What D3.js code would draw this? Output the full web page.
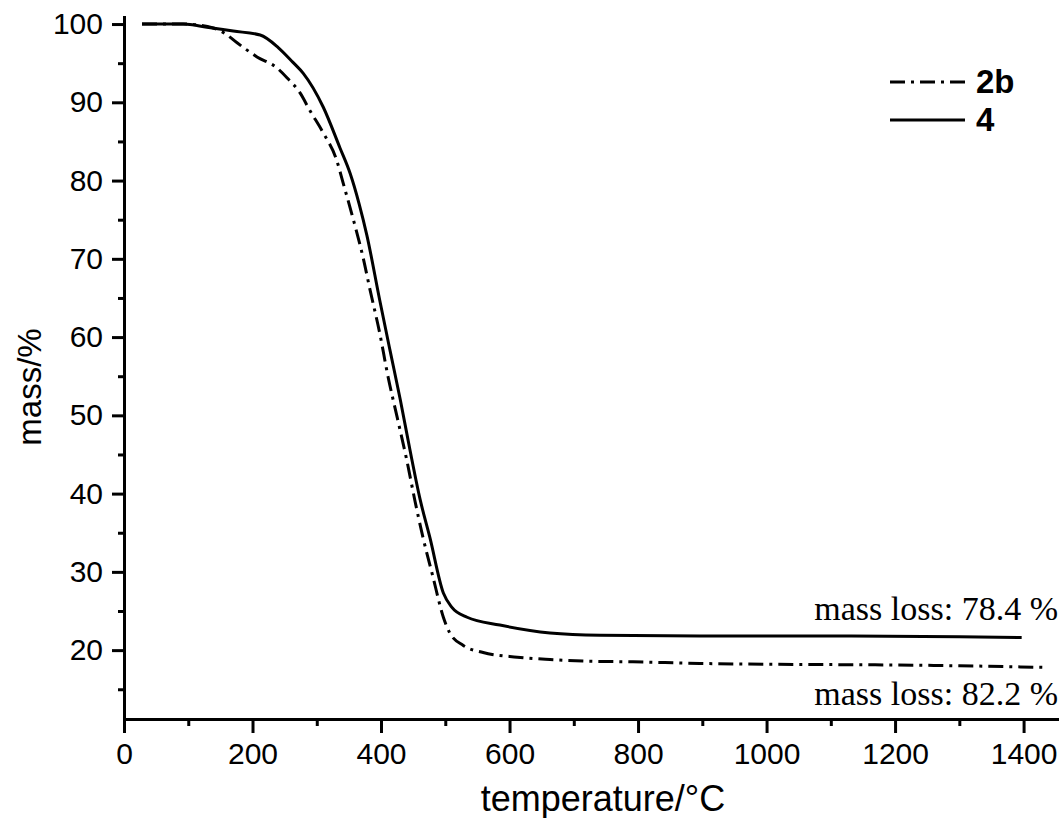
<!DOCTYPE html>
<html>
<head>
<meta charset="utf-8">
<script src="https://cdn.jsdelivr.net/npm/d3@7"></script>
<style>
  body { margin: 0; background: #fff; }
  .axis path, .axis line { stroke: #000; stroke-width: 3px; }
  .axis text { font-family: "Liberation Sans", Arial, sans-serif; font-size: 30px; fill: #000; }
</style>
</head>
<body>
<div id="chart"></div>
<script>
// sample 4 (solid line)
var temp4 = [28, 92, 129, 170, 212, 240, 263, 279, 310, 336, 352, 366, 378, 398, 414, 430, 445, 461, 476, 497, 510, 534, 585, 663, 741, 896, 1100, 1300, 1397]
var mass4 = [100, 100, 99.6, 99.1, 98.6, 97.0, 95.1, 93.7, 89.4, 84.2, 80.9, 77.0, 73.0, 64.7, 58.3, 52.0, 45.6, 39.2, 34.4, 27.3, 25.5, 24.2, 23.2, 22.2, 21.9, 21.8, 21.8, 21.7, 21.6]

// sample 2b (dash-dot line)
var temp2b = [28, 92, 130, 139, 157, 176, 191, 207, 238, 254, 274, 289, 310, 331, 341, 356, 372, 383, 398, 411, 425, 440, 453, 465, 481, 497, 507, 528, 559, 612, 663, 714, 792, 896, 1000, 1200, 1300, 1430]
var mass2b = [100, 100, 99.7, 99.5, 98.8, 97.6, 96.7, 95.8, 94.4, 93.1, 91.2, 89.0, 86.1, 82.6, 79.7, 75.3, 70.2, 66.0, 60.5, 54.9, 49.8, 44.3, 39.0, 34.5, 29.3, 24.2, 22.2, 20.6, 19.7, 19.1, 18.8, 18.6, 18.5, 18.3, 18.2, 18.1, 18.0, 17.8]

var xMajor = [0, 200, 400, 600, 800, 1000, 1200, 1400]
var xMinor = [100, 300, 500, 700, 900, 1100, 1300]
var yMajor = [20, 30, 40, 50, 60, 70, 80, 90, 100]
var yMinor = [15, 25, 35, 45, 55, 65, 75, 85, 95]

var legendNames = ["2b", "4"]
var lossLabels = ["mass loss: 78.4 %", "mass loss: 82.2 %"]

var width = 1063, height = 818

var svg = d3.select("#chart")
    .append("svg")
    .attr("width", width)
    .attr("height", height)

var x = d3.scaleLinear()
    .domain([0, 1452])
    .range([124, 1057])

var y = d3.scaleLinear()
    .domain([11.2, 100.9])
    .range([719, 17])

// minor ticks first, then the major axis on top
svg.append("g")
    .attr("class", "axis")
    .attr("transform", "translate(0,719)")
    .call(d3.axisBottom(x).tickValues(xMinor).tickSize(7).tickSizeOuter(0).tickFormat(""))

svg.append("g")
    .attr("class", "axis")
    .attr("transform", "translate(124,0)")
    .call(d3.axisLeft(y).tickValues(yMinor).tickSize(6).tickSizeOuter(0).tickFormat(""))

svg.append("g")
    .attr("class", "axis")
    .attr("transform", "translate(0,719)")
    .call(d3.axisBottom(x).tickValues(xMajor).tickSize(14).tickSizeOuter(0).tickPadding(10).tickFormat(d3.format("d")))

svg.append("g")
    .attr("class", "axis")
    .attr("transform", "translate(124,0)")
    .call(d3.axisLeft(y).tickValues(yMajor).tickSize(12).tickSizeOuter(0).tickPadding(9).tickFormat(d3.format("d")))

svg.selectAll(".axis path").attr("stroke-linecap", "square")

var line = d3.line()
    .x(d => x(d[0]))
    .y(d => y(d[1]))
    .curve(d3.curveMonotoneX)

var dashes = "15,6,3,6"

svg.append("path")
    .datum(d3.zip(temp2b, mass2b))
    .attr("d", line)
    .attr("fill", "none")
    .attr("stroke", "#000")
    .attr("stroke-width", 3)
    .attr("stroke-dasharray", dashes)

svg.append("path")
    .datum(d3.zip(temp4, mass4))
    .attr("d", line)
    .attr("fill", "none")
    .attr("stroke", "#000")
    .attr("stroke-width", 3)

// axis titles
svg.append("text")
    .attr("x", 603)
    .attr("y", 811)
    .attr("text-anchor", "middle")
    .style("font-family", "'Liberation Sans', Arial, sans-serif")
    .style("font-size", "36px")
    .text("temperature/°C")

svg.append("text")
    .attr("transform", "translate(41,387) rotate(-90)")
    .attr("text-anchor", "middle")
    .style("font-family", "'Liberation Sans', Arial, sans-serif")
    .style("font-size", "33px")
    .text("mass/%")

// legend
var legend = svg.append("g")
legendNames.forEach(function (name, i) {
    var ly = 82 + i * 38
    legend.append("line")
        .attr("x1", 890).attr("x2", 965)
        .attr("y1", ly).attr("y2", ly)
        .attr("stroke", "#000")
        .attr("stroke-width", 3)
        .attr("stroke-dasharray", i === 0 ? dashes : null)
    legend.append("text")
        .attr("x", 976)
        .attr("y", ly + 11)
        .style("font-family", "'Liberation Sans', Arial, sans-serif")
        .style("font-size", "33px")
        .style("font-weight", "bold")
        .text(name)
})

// mass loss notes
svg.selectAll(".loss")
    .data(lossLabels)
    .enter().append("text")
    .attr("class", "loss")
    .attr("x", 1058)
    .attr("y", (d, i) => i === 0 ? 620 : 705)
    .attr("text-anchor", "end")
    .style("font-family", "'Liberation Serif', 'Times New Roman', serif")
    .style("font-size", "34px")
    .text(d => d)
</script>
</body>
</html>
